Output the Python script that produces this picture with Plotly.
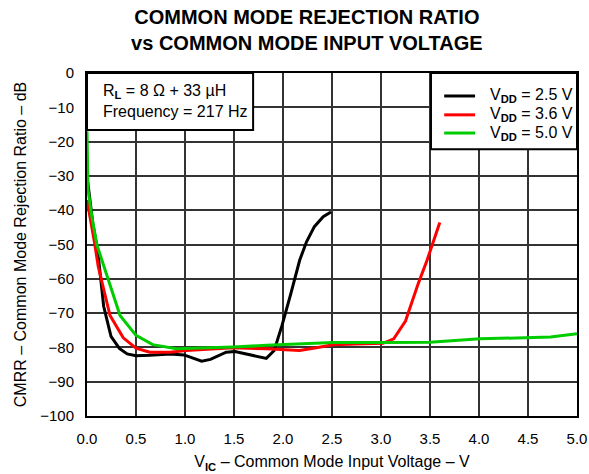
import plotly.graph_objects as go

FONT = "Arial, Liberation Sans, sans-serif"

# CMRR curves (V_IC in volts, CMRR in dB)
vic_25 = [0.0, 0.03, 0.06, 0.11, 0.17, 0.245, 0.33, 0.41, 0.5, 0.64, 0.85, 0.99, 1.07, 1.17,
          1.26, 1.42, 1.51, 1.63, 1.83, 1.91, 1.99, 2.08, 2.17, 2.24, 2.32, 2.41, 2.49]
cmrr_25 = [-30, -38, -44, -52, -68, -76.8, -80.3, -81.9, -82.4, -82.3, -81.9, -82.2, -83, -84,
           -83.5, -81.4, -81.2, -82, -83.2, -80.9, -73.6, -64.3, -54.6, -49.2, -44.8, -41.9, -40.5]

vic_36 = [0.0, 0.04, 0.08, 0.115, 0.235, 0.37, 0.5, 0.64, 0.85, 1.01, 1.49, 1.83, 2.17, 2.34,
          2.51, 2.75, 3.02, 3.13, 3.25, 3.38, 3.47, 3.6]
cmrr_36 = [-37, -43, -50, -56.5, -70.7, -77.2, -80.2, -81.4, -81.4, -80.9, -80.1, -80.4, -80.9,
           -80.1, -79.2, -79.0, -78.8, -77.5, -72.3, -61.4, -54.6, -43.6]

vic_50 = [0.0, 0.01, 0.05, 0.1, 0.18, 0.337, 0.5, 0.67, 0.91, 1.15, 1.49, 1.83, 2.17, 2.51,
          3.02, 3.5, 4.01, 4.52, 4.73, 5.0]
cmrr_50 = [-17, -34, -42, -50, -57, -70.7, -76.5, -79.2, -80.4, -80.2, -79.9, -79.4, -78.9,
           -78.6, -78.6, -78.5, -77.5, -77.2, -77.0, -76.0]

series_names = ["V<sub><b>DD</b></sub> = 2.5 V",
                "V<sub><b>DD</b></sub> = 3.6 V",
                "V<sub><b>DD</b></sub> = 5.0 V"]
series_x = [vic_25, vic_36, vic_50]
series_y = [cmrr_25, cmrr_36, cmrr_50]
series_colors = ["#000000", "#ff0000", "#00cc00"]

x_ticks = [0.0, 0.5, 1.0, 1.5, 2.0, 2.5, 3.0, 3.5, 4.0, 4.5, 5.0]
y_ticks = [0, -10, -20, -30, -40, -50, -60, -70, -80, -90, -100]

fig = go.Figure()
for name, xs, ys, color in zip(series_names, series_x, series_y, series_colors):
    fig.add_trace(go.Scatter(x=xs, y=ys, mode="lines", name=name, showlegend=False,
                             line=dict(color=color, width=3)))

shapes = []
annotations = []

# condition box, top-left
shapes.append(dict(type="rect", xref="paper", yref="paper", x0=0, x1=0.339, y0=0.834, y1=1,
                   fillcolor="white", line=dict(color="black", width=2), layer="above"))
annotations.append(dict(
    text="R<sub><b>L</b></sub> = 8 Ω + 33 µH<br>Frequency = 217 Hz",
    xref="paper", yref="paper", x=0.029, y=0.917, xanchor="left", yanchor="middle",
    align="left", showarrow=False,
    font=dict(family=FONT, size=16, color="black"),
))

# legend box, top-right
shapes.append(dict(type="rect", xref="paper", yref="paper", x0=0.702, x1=1, y0=0.778, y1=1,
                   fillcolor="white", line=dict(color="black", width=2), layer="above"))
row_y = [0.933, 0.878, 0.825]
for name, color, ry in zip(series_names, series_colors, row_y):
    shapes.append(dict(type="line", xref="paper", yref="paper", x0=0.729, x1=0.792, y0=ry, y1=ry,
                       line=dict(color=color, width=3), layer="above"))
    annotations.append(dict(text=name, xref="paper", yref="paper", x=0.818, y=ry,
                            xanchor="left", yanchor="middle", showarrow=False,
                            font=dict(family=FONT, size=16, color="black")))

fig.update_layout(
    width=589, height=474,
    margin=dict(l=87, r=12, t=73, b=58, autoexpand=False),
    paper_bgcolor="white", plot_bgcolor="white",
    font=dict(family=FONT, size=15, color="black"),
    title=dict(
        text="<b>COMMON MODE REJECTION RATIO<br>vs COMMON MODE INPUT VOLTAGE</b>",
        xref="container", yref="container",
        x=0.521, xanchor="center", y=0.950, yanchor="middle",
        font=dict(family=FONT, size=20, color="black"),
    ),
    showlegend=False,
    shapes=shapes,
    annotations=annotations,
)

fig.update_xaxes(
    range=[0, 5], tickvals=x_ticks, tickformat=".1f",
    showgrid=True, gridcolor="#333333", gridwidth=1.5,
    showline=True, linecolor="black", linewidth=2, mirror=True,
    ticks="", ticklabelstandoff=8, zeroline=False, automargin=False,
    title=dict(text="V<sub><b>IC</b></sub> – Common Mode Input Voltage – V",
               font=dict(family=FONT, size=16), standoff=10),
)
fig.update_yaxes(
    range=[-100, 0], tickvals=y_ticks,
    showgrid=True, gridcolor="#333333", gridwidth=1.5,
    showline=True, linecolor="black", linewidth=2, mirror=True,
    ticks="", ticklabelstandoff=8, zeroline=False, automargin=False,
    title=dict(text="CMRR – Common Mode Rejection Ratio – dB",
               font=dict(family=FONT, size=16), standoff=10),
)

fig.write_html("out.html")
